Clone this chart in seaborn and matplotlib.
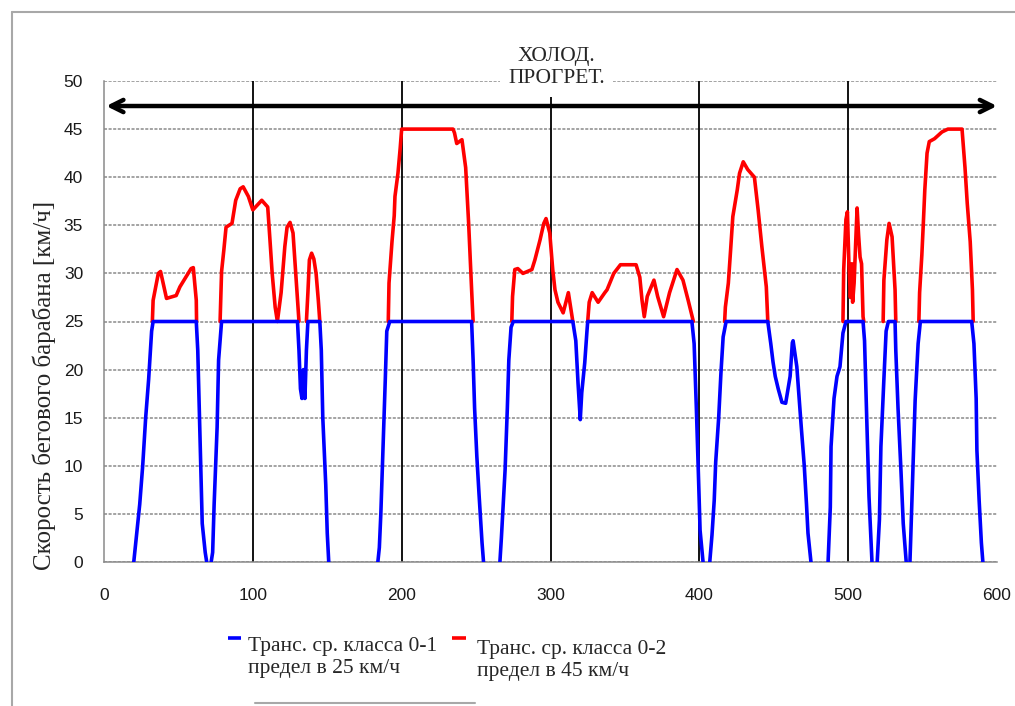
"""Drum speed trace: two vehicle classes (25 and 45 km/h limits)."""
import numpy as np
import pandas as pd
import seaborn as sns
import matplotlib.pyplot as plt
from matplotlib.lines import Line2D

sns.set_style("white")
plt.rcParams["font.family"] = ["Liberation Serif", "DejaVu Serif"]

nan = np.nan

# class 0-1, limited to 25 km/h  (nan = break in the trace)
blue_t = [20, 22, 24, 26, 28, 30, 32, 33, 62, 63, 64, 65, 66, 68, 69, nan,
          72, 73, 74, 76, 77, 79, 130, 131, 132, 133, 134, 135, 136, 137,
          145, 146, 147, 149, 150, 151, nan,
          184, 185, 186, 187.5, 189, 190, 192, 247, 248, 249, 250.5, 252, 254, 255, nan,
          266, 267, 269.5, 271, 272, 273.5, 275, 315, 317, 318.5, 320, 321, 323,
          324.5, 325, 395, 396.5, 398, 399.5, 400.5, 402.5, nan,
          407, 408.5, 410, 411, 413, 414.5, 416, 418, 446, 448, 449.5, 451, 453,
          455.5, 458, 461, 462.5, 463, 465.5, 468.5, 470.5, 472, 473, 475, nan,
          486.5, 488, 488.5, 490.5, 492.5, 494.5, 496.5, 498.5, 510, 511, 512.5, 514, 516, nan,
          519.5, 521, 522, 524, 525.5, 527, 531.5, 532, 533.5, 535.5, 537, 539, nan,
          541.5, 542, 543.5, 545, 547, 548.5, 583, 584.5, 586, 586.5, 588, 589.5, 590.5]
blue_v = [0, 3, 6, 10, 15, 19, 24, 25, 25, 22, 16, 10, 4, 1, 0, nan,
          0, 1, 6, 14, 21, 25, 25, 22, 18, 17, 20, 17, 22, 25,
          25, 22, 15, 8, 3, 0, nan,
          0, 1.5, 5, 12, 19, 24, 25, 25, 21, 16, 11, 7, 2, 0, nan,
          0, 2.5, 9.6, 16, 21, 24.4, 25, 25, 23, 18.6, 14.8, 17.6, 20.7,
          24, 25, 25, 22.7, 16, 8.5, 3.3, 0, nan,
          0, 2.8, 6.4, 10.4, 15, 19.6, 23.4, 25, 25, 22.7, 20.8, 19.3, 18,
          16.6, 16.5, 19.3, 22.8, 23, 20.3, 14, 10, 6, 3, 0, nan,
          0, 5.7, 12, 17, 19.3, 20.3, 23.8, 25, 25, 23, 14.8, 6.8, 0, nan,
          0, 4.4, 12, 19, 24, 25, 25, 22, 16, 9.4, 4, 0, nan,
          0, 2.3, 9.6, 16.8, 22.7, 25, 25, 22.7, 17, 11.6, 6.4, 2, 0]

# class 0-2, limited to 45 km/h (only the part above 25 km/h shows)
red_t = [32.5, 33, 36.5, 38, 42, 48.5, 51, 58.5, 60, 62, 62.2, nan,
         78, 79, 80.5, 82, 86, 88.5, 91.5, 93.5, 97, 100, 106, 110, 111.5, 113,
         115, 116.5, 119, 121.5, 123, 125, 127, 129, 131, nan,
         136, 137, 138, 139.5, 141, 142.5, 144, 145, nan,
         191, 191.5, 193.5, 195, 195.5, 197.5, 199, 200, 234.5, 235.5, 237, 240.5,
         243, 245, 247, 248, nan,
         274, 274.5, 276, 278, 281.5, 287.5, 289.5, 293, 295.5, 297, 299.5, 301.5,
         303, 305, 308.5, 312, 314.5, 315, nan,
         325, 326, 328, 332, 336.5, 338, 342.5, 347, 357.5, 360, 361.5, 363, 365,
         369.5, 372, 376, 380, 385, 389, 392.5, 396, nan,
         417, 417.5, 419.5, 421, 422.5, 425.5, 427, 429.5, 432.5, 437, 439.5, 442,
         445, 446, nan,
         496.5, 497, 498.5, 499.5, 500.5, 501.5, 502.5, 503, 504, 505, 506, 507,
         508, 509, 510, 510.5, nan,
         523.5, 524, 526, 527.5, 529.5, 531.5, 532, nan,
         547.5, 548, 549.5, 550.5, 551.5, 553, 554.5, 558, 563, 567, 576.5, 578.5,
         580, 582, 583.5, 584]
red_v = [25, 27.2, 30, 30.2, 27.4, 27.7, 28.6, 30.5, 30.6, 27.2, 25, nan,
         25, 30.2, 32.4, 34.8, 35.2, 37.6, 38.8, 39, 38, 36.6, 37.6, 36.9, 33.5, 30,
         26.5, 25, 28, 32.8, 34.8, 35.3, 34.2, 29.6, 25, nan,
         25, 28, 31.4, 32.1, 31.5, 30, 27.2, 25, nan,
         25, 29, 33.3, 36, 38, 40.4, 43, 45, 45, 44.6, 43.5, 43.9,
         41, 35.2, 28.3, 25, nan,
         25, 27.6, 30.4, 30.5, 30, 30.4, 31.4, 33.5, 35.2, 35.7, 34.2, 30.4,
         28.3, 27, 25.9, 28, 25.5, 25, nan,
         25, 27, 28, 27, 28, 28.3, 30, 30.9, 30.9, 29.6, 27.2, 25.5, 27.6,
         29.3, 27.6, 25.5, 28, 30.4, 29.3, 27.2, 25, nan,
         25, 26.5, 29, 32.4, 35.9, 38.7, 40.4, 41.6, 40.8, 40, 36.6, 32.8,
         28.6, 25, nan,
         25, 30.4, 35.6, 36.4, 31, 27.5, 31, 27, 29, 33, 36.8, 34,
         31.7, 31, 25.5, 25, nan,
         25, 29.3, 33.5, 35.2, 33.8, 28.3, 25, nan,
         25, 28, 31.9, 35.2, 38.7, 42.5, 43.7, 44, 44.7, 45, 45, 41,
         37.3, 33.3, 28.3, 25]

label_blue = "Транс. ср. класса 0-1\nпредел в 25 км/ч"
label_red = "Транс. ср. класса 0-2\nпредел в 45 км/ч"
ylabel = "Скорость бегового барабана [км/ч]"
banner = "ХОЛОД.\nПРОГРЕТ."

BLUE = "#0000ff"
RED = "#ff0000"
GRAY = "#8a8a8a"


def to_frame(t, v):
    t = np.asarray(t, float)
    v = np.asarray(v, float)
    seg = np.cumsum(np.isnan(t))
    d = pd.DataFrame({"t": t, "v": v, "seg": seg})
    return d.dropna()


blue_df = to_frame(blue_t, blue_v)
red_df = to_frame(red_t, red_v)

W, H = 1015, 706
fig = plt.figure(figsize=(W / 100, H / 100), dpi=100)
ax = fig.add_axes([104 / W, 1 - 562 / H, 893 / W, 481 / H])

sns.lineplot(data=red_df, x="t", y="v", units="seg", estimator=None, sort=False,
             color=RED, lw=2.6, ax=ax, zorder=3)
sns.lineplot(data=blue_df, x="t", y="v", units="seg", estimator=None, sort=False,
             color=BLUE, lw=2.6, ax=ax, zorder=4)

ax.set_xlim(0, 600)
ax.set_ylim(0, 50)
ax.xaxis.set(major_locator=plt.MultipleLocator(100),
             minor_locator=plt.MultipleLocator(10))
ax.yaxis.set(major_locator=plt.MultipleLocator(5),
             minor_locator=plt.MultipleLocator(1))

ax.yaxis.grid(True, which="major", color=GRAY, ls=(0, (2, 1)), lw=1.1, zorder=1)
ax.xaxis.grid(False)
for x in range(100, 600, 100):
    ax.axvline(x, color="black", lw=1.3, zorder=2)

for s in ["top", "right"]:
    ax.spines[s].set_visible(False)
for s in ["left", "bottom"]:
    ax.spines[s].set_color(GRAY)
    ax.spines[s].set_linewidth(1.1)

ax.tick_params(axis="x", which="major", direction="inout", length=10, width=1,
               color=GRAY, pad=14, labelsize=12.5, labelcolor="#1a1a1a")
ax.tick_params(axis="x", which="minor", direction="in", length=4, color=GRAY)
ax.tick_params(axis="y", which="major", direction="out", length=6, width=1,
               color=GRAY, pad=9, labelsize=12.5, labelcolor="#1a1a1a")
ax.tick_params(axis="y", which="minor", direction="in", length=4, color=GRAY)
ax.tick_params(labelfontfamily="Liberation Sans")

ax.set_xlabel("")
ax.set_ylabel(ylabel, fontsize=18)
ax.yaxis.set_label_coords(-0.054, 0.368)

# cold / warmed-up banner with the double arrow under it
ax.annotate("", xy=(600, 47.4), xytext=(1.5, 47.4),
            arrowprops=dict(arrowstyle="<->", lw=3.2, color="black",
                            mutation_scale=22, shrinkA=0, shrinkB=0),
            annotation_clip=False, zorder=5)
ax.text(304, 51.4, banner, ha="center", va="center", fontsize=15.5,
        linespacing=1.28, clip_on=False, zorder=6,
        bbox=dict(fc="white", ec="none", pad=6))

# legend: short line keys beside two-line labels
key = dict(transform=fig.transFigure, lw=2.6, solid_capstyle="butt")
fig.add_artist(Line2D([228 / W, 241 / W], [1 - 638 / H] * 2, color=BLUE, **key))
fig.add_artist(Line2D([452 / W, 466 / W], [1 - 638 / H] * 2, color=RED, **key))
fig.text(248 / W, 1 - 637 / H, label_blue, ha="left", va="top",
         fontsize=15.5, linespacing=1.2)
fig.text(477 / W, 1 - 640 / H, label_red, ha="left", va="top",
         fontsize=15.5, linespacing=1.2)

# outer chart-area frame (cropped)
frame = dict(transform=fig.transFigure, color="#a8a8a8", lw=1.5)
fig.add_artist(Line2D([12 / W, 12 / W], [0, 1 - 12 / H], **frame))
fig.add_artist(Line2D([12 / W, 1], [1 - 12 / H, 1 - 12 / H], **frame))
fig.add_artist(Line2D([255 / W, 475 / W], [1 - 703 / H, 1 - 703 / H], **frame))

fig.savefig("out.png", dpi=100)
